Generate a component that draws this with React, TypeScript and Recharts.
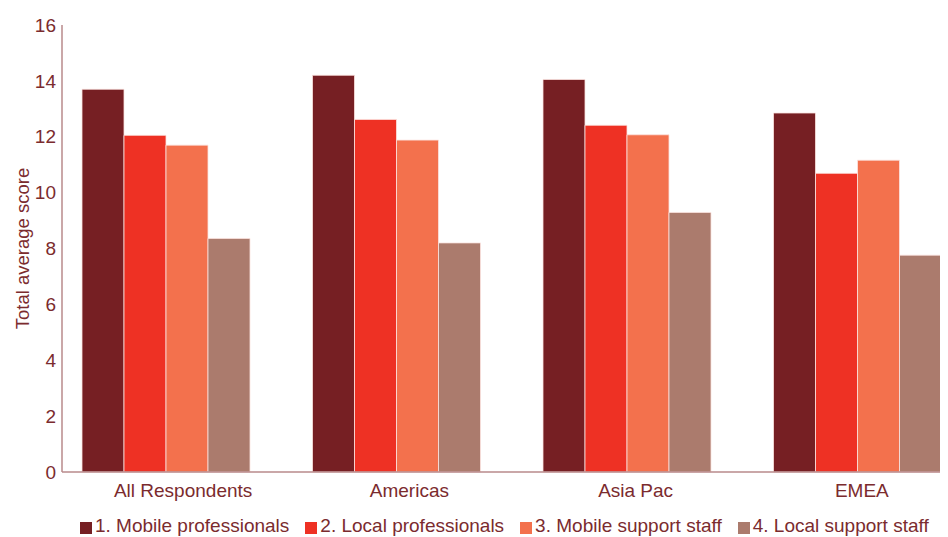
import { Bar, BarChart, Legend, XAxis, YAxis } from "recharts";

// regions on the x axis
const regions = ["All Respondents", "Americas", "Asia Pac", "EMEA"];

// total average score per group, one array per staff type
const mobileProfessionals = [13.7, 14.2, 14.05, 12.85];
const localProfessionals = [12.05, 12.62, 12.41, 10.69];
const mobileSupportStaff = [11.7, 11.88, 12.07, 11.16];
const localSupportStaff = [8.36, 8.2, 9.29, 7.76];

const yTicks = [0, 2, 4, 6, 8, 10, 12, 14, 16];

const SERIES = [
  { key: "mp", name: "1. Mobile professionals", color: "#761f23", values: mobileProfessionals },
  { key: "lp", name: "2. Local professionals", color: "#ee3124", values: localProfessionals },
  { key: "ms", name: "3. Mobile support staff", color: "#f3714d", values: mobileSupportStaff },
  { key: "ls", name: "4. Local support staff", color: "#ab7b6d", values: localSupportStaff },
];

const TEXT = "#7b2b2e";
const AXIS = "#b98a8b";
const FONT = "'Liberation Sans', Arial, Helvetica, sans-serif";

const rows = regions.map((region, i) => {
  const row: Record<string, string | number> = { region };
  SERIES.forEach((s) => {
    row[s.key] = s.values[i];
  });
  return row;
});

function LegendRow(): JSX.Element {
  return (
    <div
      style={{
        display: "flex",
        gap: 16,
        paddingLeft: 72,
        paddingTop: 7,
        height: 30,
        boxSizing: "border-box",
        fontFamily: FONT,
        fontSize: 19,
        lineHeight: "22px",
        color: TEXT,
        whiteSpace: "nowrap",
      }}
    >
      {SERIES.map((s) => (
        <span key={s.key} style={{ display: "inline-flex", alignItems: "center", flexShrink: 0 }}>
          <span
            style={{
              width: 12,
              height: 12,
              background: s.color,
              marginRight: 3,
              marginTop: 4,
              display: "inline-block",
            }}
          />
          {s.name}
        </span>
      ))}
    </div>
  );
}

export default function App(): JSX.Element {
  return (
    <div style={{ width: 940, height: 529, fontFamily: FONT }}>
      <BarChart
        width={940}
        height={529}
        data={rows}
        margin={{ top: 17, right: 2, bottom: 0, left: 0 }}
        barCategoryGap={32}
        barGap={0}
      >
        {/* axis the bars sit on: line only */}
        <XAxis
          xAxisId="bars"
          dataKey="region"
          padding={{ left: -12, right: -26 }}
          height={1}
          tick={false}
          tickLine={false}
          axisLine={{ stroke: AXIS, strokeWidth: 1.5 }}
          interval={0}
        />
        {/* category labels are spaced a little tighter than the bar groups */}
        <XAxis
          xAxisId="labels"
          dataKey="region"
          padding={{ left: 8, right: -29 }}
          height={34}
          tickLine={false}
          axisLine={false}
          tick={{ fill: TEXT, fontSize: 19, fontFamily: FONT }}
          tickMargin={5}
          interval={0}
        />
        <YAxis
          width={54}
          domain={[0, 16]}
          ticks={yTicks}
          interval={0}
          tickLine={false}
          axisLine={{ stroke: AXIS, strokeWidth: 1.5 }}
          tick={{ fill: TEXT, fontSize: 19, fontFamily: FONT }}
          tickMargin={0}
          label={{
            value: "Total average score",
            angle: -90,
            position: "insideLeft",
            offset: 14,
            style: { fill: TEXT, fontSize: 18.5, fontFamily: FONT, textAnchor: "middle" },
          }}
        />
        <Legend verticalAlign="bottom" height={30} content={() => <LegendRow />} />
        {SERIES.map((s) => (
          <Bar
            key={s.key}
            xAxisId="bars"
            dataKey={s.key}
            name={s.name}
            fill={s.color}
            stroke="#fbe3e0"
            strokeWidth={0.8}
            isAnimationActive={false}
          />
        ))}
      </BarChart>
    </div>
  );
}
